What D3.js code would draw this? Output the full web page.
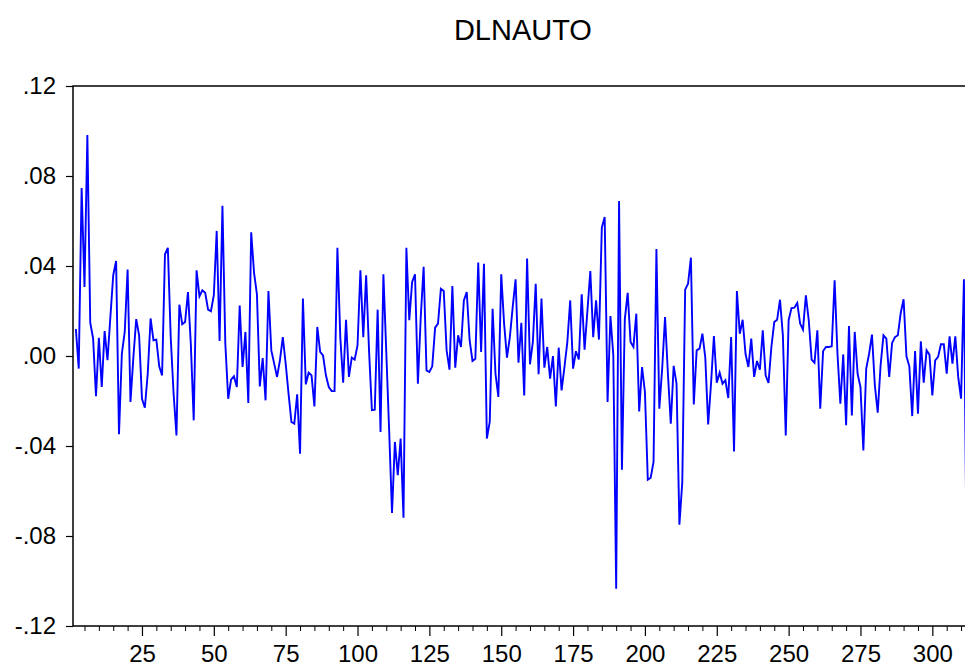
<!DOCTYPE html>
<html>
<head>
<meta charset="utf-8">
<script src="https://cdn.jsdelivr.net/npm/d3@7"></script>
<style>
  html, body { margin: 0; padding: 0; background: #fff; }
  svg { display: block; }
  text { font-family: "Liberation Sans", Arial, sans-serif; fill: #000; }
</style>
</head>
<body>
<svg id="chart" width="965" height="668"></svg>
<script>
// Series: first differences of log auto output, observations 2..312
const title = "DLNAUTO";
const firstObs = 2;
const dlnauto = [
  0.012, -0.0056, 0.0747, 0.0307, 0.0982, 0.0148, 0.0077, -0.0179, 0.0081, -0.0138,
  0.0111, -0.0019, 0.0173, 0.0359, 0.0422, -0.0348, 0.001, 0.0107, 0.0384, -0.0204,
  -0.0007, 0.0164, 0.0092, -0.019, -0.023, -0.0079, 0.0167, 0.007, 0.0073, -0.0046,
  -0.0086, 0.0452, 0.0481, 0.0084, -0.0167, -0.0353, 0.0228, 0.0141, 0.0151, 0.0284,
  0.0052, -0.0286, 0.0381, 0.0265, 0.0292, 0.0281, 0.0206, 0.0199, 0.027, 0.0556,
  0.0067, 0.0668, 0.0055, -0.019, -0.0105, -0.009, -0.0138, 0.0224, -0.0049, 0.0107,
  -0.0209, 0.055, 0.0369, 0.0274, -0.0135, -0.0009, -0.0197, 0.0289, 0.0025, -0.0034,
  -0.0093, -0.0019, 0.0084, -0.0034, -0.0167, -0.0293, -0.0301, -0.017, -0.0434, 0.0255,
  -0.0126, -0.0074, -0.0086, -0.0224, 0.0129, 0.0018, 0.0003, -0.0086, -0.0138, -0.0156,
  -0.0156, 0.0481, 0.0084, -0.0119, 0.0161, -0.0093, -0.0007, -0.0016, 0.0047, 0.0381,
  0.0084, 0.0359, 0.0025, -0.0241, -0.0239, 0.0206, -0.0338, 0.0363, 0.002, -0.033,
  -0.0698, -0.0382, -0.053, -0.0367, -0.0719, 0.0481, 0.0159, 0.0329, 0.0363, -0.0123,
  0.0173, 0.0396, -0.0064, -0.0071, -0.0046, 0.0126, 0.0144, 0.0299, 0.0289, 0.0025,
  -0.0061, 0.0311, -0.0052, 0.0092, 0.004, 0.0247, 0.0284, 0.007, -0.0022, -0.0012,
  0.0415, 0.0018, 0.041, -0.0367, -0.0293, 0.021, -0.0079, -0.0182, 0.0363, 0.0144,
  -0.0007, 0.0084, 0.0218, 0.0341, -0.003, 0.0148, -0.0175, 0.0433, -0.0037, 0.0062,
  0.0321, -0.0081, 0.0255, -0.0052, 0.004, -0.0101, 0.0, -0.0224, 0.0037, -0.0153,
  -0.0049, 0.0062, 0.0247, -0.0056, 0.0021, -0.0015, 0.0274, 0.0028, 0.0203, 0.0378,
  0.0084, 0.0247, 0.0073, 0.057, 0.0618, -0.0204, 0.0178, 0.0003, -0.1034, 0.0689,
  -0.0505, 0.0163, 0.0281, 0.0062, 0.004, 0.0188, -0.0246, -0.0049, -0.016, -0.055,
  -0.0541, -0.0471, 0.0476, -0.0234, -0.0056, 0.0173, -0.0079, -0.0301, -0.0044, -0.0123,
  -0.075, -0.056, 0.0295, 0.0321, 0.0437, -0.0215, 0.0025, 0.0033, 0.0099, -0.0007,
  -0.0304, -0.0123, 0.0089, -0.0119, -0.0074, -0.0123, -0.0108, -0.0187, 0.0084, -0.0424,
  0.0289, 0.0099, 0.0161, 0.001, -0.0049, 0.0077, -0.0093, -0.0022, -0.0061, 0.0114,
  -0.0086, -0.012, 0.004, 0.0151, 0.0161, 0.025, 0.0092, -0.0353, 0.0159, 0.0213,
  0.0215, 0.0236, 0.0144, 0.0117, 0.027, 0.0159, -0.0016, -0.003, 0.0114, -0.0234,
  0.0022, 0.004, 0.004, 0.0043, 0.0336, 0.001, -0.0212, 0.0007, -0.0308, 0.0133,
  -0.0264, 0.0107, -0.0079, -0.0138, -0.042, -0.0056, 0.001, 0.0095, -0.013, -0.0252,
  -0.0041, 0.0092, 0.0077, -0.0093, 0.0058, 0.0084, 0.0092, 0.0191, 0.0252, -0.0001,
  -0.0046, -0.0267, 0.0022, -0.0256, 0.0065, -0.0119, 0.0025, 0.0006, -0.0175, -0.0019,
  -0.0004, 0.0052, 0.0052, -0.0079, 0.0087, -0.0034, 0.0087, -0.0093, -0.019, 0.0341,
  -0.10
];

// Axis ticks
const yTicks = [-0.12, -0.08, -0.04, 0.0, 0.04, 0.08, 0.12];
const yTickLabels = ["-.12", "-.08", "-.04", ".00", ".04", ".08", ".12"];
const xMajorTicks = [25, 50, 75, 100, 125, 150, 175, 200, 225, 250, 275, 300];
const xMinorStep = 5;
const xDomain = [1, 312];

const data = dlnauto.map((v, i) => ({ obs: firstObs + i, value: v }));

const svg = d3.select("#chart");
const plotLeft = 73, plotTop = 86, plotBottom = 626;
const plotRight = plotLeft + (xDomain[1] - xDomain[0]) * 2.874;

const x = d3.scaleLinear().domain(xDomain).range([plotLeft, plotRight]);
const y = d3.scaleLinear().domain([-0.12, 0.12]).range([plotBottom, plotTop]);

// Title
svg.append("text")
  .attr("x", (plotLeft + plotRight) / 2 + 3)
  .attr("y", 40)
  .attr("text-anchor", "middle")
  .style("font-size", "29px")
  .text(title);

// Clip region for the plot interior
svg.append("defs").append("clipPath").attr("id", "plotClip")
  .append("rect")
  .attr("x", plotLeft).attr("y", plotTop)
  .attr("width", plotRight - plotLeft).attr("height", plotBottom - plotTop);

// Series line
const line = d3.line()
  .x(d => x(d.obs))
  .y(d => y(d.value));

svg.append("path")
  .datum(data)
  .attr("clip-path", "url(#plotClip)")
  .attr("fill", "none")
  .attr("stroke", "#0000ff")
  .attr("stroke-width", 1.9)
  .attr("stroke-linejoin", "miter")
  .attr("d", line);

// Frame
svg.append("rect")
  .attr("x", plotLeft).attr("y", plotTop)
  .attr("width", plotRight - plotLeft).attr("height", plotBottom - plotTop)
  .attr("fill", "none")
  .attr("stroke", "#000")
  .attr("stroke-width", 1.5);

// Left axis
const yAxis = d3.axisLeft(y)
  .tickValues(yTicks)
  .tickFormat((d, i) => yTickLabels[i])
  .tickSize(7)
  .tickPadding(10);
const gy = svg.append("g").attr("transform", `translate(${plotLeft},0)`).call(yAxis);
gy.select(".domain").remove();
gy.selectAll("line").attr("stroke", "#000").attr("stroke-width", 1.2);
gy.selectAll("text")
  .style("font-size", "24px")
  .attr("font-family", null);

// Bottom axis: minor ticks every 5 observations, labelled major ticks every 25
const minorTicks = d3.range(xMinorStep, xDomain[1] + 1, xMinorStep)
  .filter(t => !xMajorTicks.includes(t));
const xMinor = d3.axisBottom(x).tickValues(minorTicks).tickFormat("").tickSize(5);
const gxm = svg.append("g").attr("transform", `translate(0,${plotBottom})`).call(xMinor);
gxm.select(".domain").remove();
gxm.selectAll("line").attr("stroke", "#000").attr("stroke-width", 1);

const xMajor = d3.axisBottom(x).tickValues(xMajorTicks).tickFormat(d3.format("d"))
  .tickSize(10).tickPadding(9);
const gx = svg.append("g").attr("transform", `translate(0,${plotBottom})`).call(xMajor);
gx.select(".domain").remove();
gx.selectAll("line").attr("stroke", "#000").attr("stroke-width", 1.2);
gx.selectAll("text")
  .style("font-size", "24px")
  .attr("font-family", null);
</script>
</body>
</html>
